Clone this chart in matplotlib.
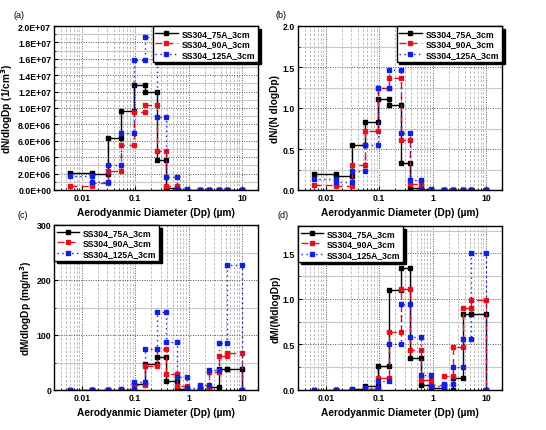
import numpy as np
import matplotlib.pyplot as plt
from matplotlib.ticker import MultipleLocator, LogLocator, FixedLocator, NullFormatter

plt.rcParams['font.family'] = ['Liberation Sans', 'DejaVu Sans']
plt.rcParams['font.weight'] = 'bold'

# ELPI stage cut points (um)
edges = [0.006, 0.0154, 0.0304, 0.0541, 0.0943, 0.154, 0.254, 0.380,
         0.600, 0.943, 1.62, 2.46, 3.64, 5.34, 10.0]

names = ['SS304_75A_3cm', 'SS304_90A_3cm', 'SS304_125A_3cm']

# (a) dN/dlogDp, 1/cm3
num_75 = [2.1e6, 2.0e6, 6.3e6, 9.6e6, 1.28e7, 1.19e7, 3.7e6, 2.5e5, 2e4, 1e4, 5e3, 3e3, 2e3, 1e3]
num_90 = [4.5e5, 8.0e5, 2.3e6, 5.5e6, 9.5e6, 1.04e7, 4.7e6, 4.5e5, 5e4, 1e4, 5e3, 3e3, 2e3, 1e3]
num_125 = [1.7e6, 1.0e6, 3.0e6, 6.9e6, 1.59e7, 1.86e7, 8.9e6, 1.55e6, 1.0e5, 2e4, 1e4, 5e3, 3e3, 2e3]

# (b) dN/(N dlogDp)
nnum_75 = [0.19, 0.175, 0.55, 0.835, 1.11, 1.035, 0.325, 0.02, 0.005, 0.002, 0.001, 0.001, 0.001, 0.0]
nnum_90 = [0.06, 0.05, 0.31, 0.715, 1.25, 1.365, 0.61, 0.075, 0.006, 0.002, 0.001, 0.001, 0.001, 0.0]
nnum_125 = [0.135, 0.10, 0.23, 0.55, 1.25, 1.46, 0.70, 0.12, 0.01, 0.003, 0.002, 0.001, 0.001, 0.0]

# (c) dM/dlogDp, mg/m3
mass_75 = [0.1, 0.2, 0.3, 0.5, 11, 48, 60, 17, 2, 0.5, 0.5, 5, 37.5, 37.5]
mass_90 = [0.1, 0.2, 0.3, 0.8, 9.7, 43, 74, 28.5, 7, 0.5, 5, 32, 61, 66.5]
mass_125 = [0.5, 0.3, 0.3, 1.5, 14, 75, 142, 87, 24, 4, 10, 37, 85, 227]

# (d) dM/(M dlogDp)
nmass_75 = [0.0, 0.002, 0.007, 0.04, 0.26, 1.10, 1.34, 0.35, 0.055, 0.02, 0.005, 0.13, 0.835, 0.835]
nmass_90 = [0.0, 0.002, 0.005, 0.01, 0.13, 0.64, 1.105, 0.44, 0.11, 0.05, 0.15, 0.475, 0.90, 0.99]
nmass_125 = [0.0, 0.001, 0.004, 0.02, 0.10, 0.50, 0.94, 0.58, 0.16, 0.04, 0.07, 0.25, 0.56, 1.50]

colors = ['black', '#e8101a', '#1020e0']
styles = ['-', (0, (5, 3)), (0, (1, 2.5))]


def step_xy(vals):
    e = np.array(edges)
    x = np.column_stack([e[:-1], e[1:]]).ravel()
    y = np.repeat(vals, 2)
    x = np.append(x, e[-1])
    y = np.append(y, 0.0)
    return x, y


fig = plt.figure(figsize=(5.46, 4.31), dpi=100)
W, H = 546, 431


def make_ax(l, t, r, b):
    return fig.add_axes([l / W, 1 - b / H, (r - l) / W, (b - t) / H])


panels = [
    dict(box=(54, 27, 258, 191), data=[num_75, num_90, num_125], ylim=(0, 2.0e7), major=2e6, minor=1e6,
         ylabel='dN/dlogDp (1/cm$^\\mathbf{3}$)', tag='(a)', tagpos=(13, 16), loc='upper right', sci=True),
    dict(box=(298, 27, 502, 191), data=[nnum_75, nnum_90, nnum_125], ylim=(0, 2.0), major=0.5, minor=0.25,
         ylabel='dN/(N dlogDp)', tag='(b)', tagpos=(276, 16), loc='upper right', sci=False, fmt='%.1f'),
    dict(box=(54, 226, 258, 391), data=[mass_75, mass_90, mass_125], ylim=(0, 300), major=100, minor=50,
         ylabel='dM/dlogDp (mg/m$^\\mathbf{3}$)', tag='(c)', tagpos=(17, 216), loc='upper left', sci=False, fmt='%d'),
    dict(box=(298, 227, 502, 391), data=[nmass_75, nmass_90, nmass_125], ylim=(0, 1.8), major=0.5, minor=0.25,
         ylabel='dM/(MdlogDp)', tag='(d)', tagpos=(277, 216), loc='upper left', sci=False, fmt='%.1f'),
]

for p in panels:
    ax = make_ax(*p['box'])
    for vals, c, ls, nm in zip(p['data'], colors, styles, names):
        x, y = step_xy(vals)
        ax.plot(x, y, color=c, ls=ls, lw=1.0, marker='s', ms=2.6, mec=c, mfc=c, label=nm)
    ax.set_xscale('log')
    ax.set_xlim(0.003, 20)
    ax.set_ylim(*p['ylim'])
    ax.xaxis.set_major_locator(FixedLocator([0.01, 0.1, 1, 10]))
    ax.set_xticklabels(['0.01', '0.1', '1', '10'])
    ax.xaxis.set_minor_locator(LogLocator(base=10, subs=np.arange(2, 10)))
    ax.xaxis.set_minor_formatter(NullFormatter())
    ax.yaxis.set_major_locator(MultipleLocator(p['major']))
    ax.yaxis.set_minor_locator(MultipleLocator(p['minor']))
    if p['sci']:
        ax.yaxis.set_major_formatter(plt.FuncFormatter(
            lambda v, pos: ('%.1E' % v).replace('E+0', 'E+0')))
    else:
        fmt = p['fmt']
        ax.yaxis.set_major_formatter(plt.FuncFormatter(lambda v, pos, f=fmt: f % v))
    ax.grid(which='major', axis='both', ls=(0, (1, 1.5)), color='#555555', lw=0.7)
    ax.grid(which='minor', axis='x', ls=(0, (3, 2)), color='#b0b0b0', lw=0.6)
    ax.grid(which='minor', axis='y', ls='-', color='#c8c8c8', lw=0.8)
    ax.tick_params(which='both', direction='in', top=False, right=False, labelsize=6.3, pad=2)
    ax.tick_params(which='major', length=3, width=0.8)
    ax.tick_params(which='minor', length=1.5, width=0.6)
    for s in ax.spines.values():
        s.set_linewidth(1.0)
    ax.set_ylabel(p['ylabel'], fontsize=7.3, fontweight='bold', labelpad=2)
    ax.set_xlabel('Aerodyanmic Diameter (Dp) (\u00b5m)', fontsize=7.3, fontweight='bold', labelpad=4)
    leg = ax.legend(loc=p['loc'], fontsize=6.2, frameon=True, fancybox=False, borderaxespad=0.0,
                    handlelength=2.6, handletextpad=0.5, borderpad=0.3, labelspacing=0.2,
                    shadow={'color': 'black', 'alpha': 1.0})
    leg.get_frame().set_edgecolor('black')
    leg.get_frame().set_linewidth(1.0)
    leg.get_frame().set_alpha(1.0)
    for t in leg.get_texts():
        t.set_fontweight('bold')
    fig.text(p['tagpos'][0] / W, 1 - p['tagpos'][1] / H, p['tag'], fontsize=6.5,
             ha='left', va='center', fontweight='normal')

fig.savefig('out.png', dpi=100)
